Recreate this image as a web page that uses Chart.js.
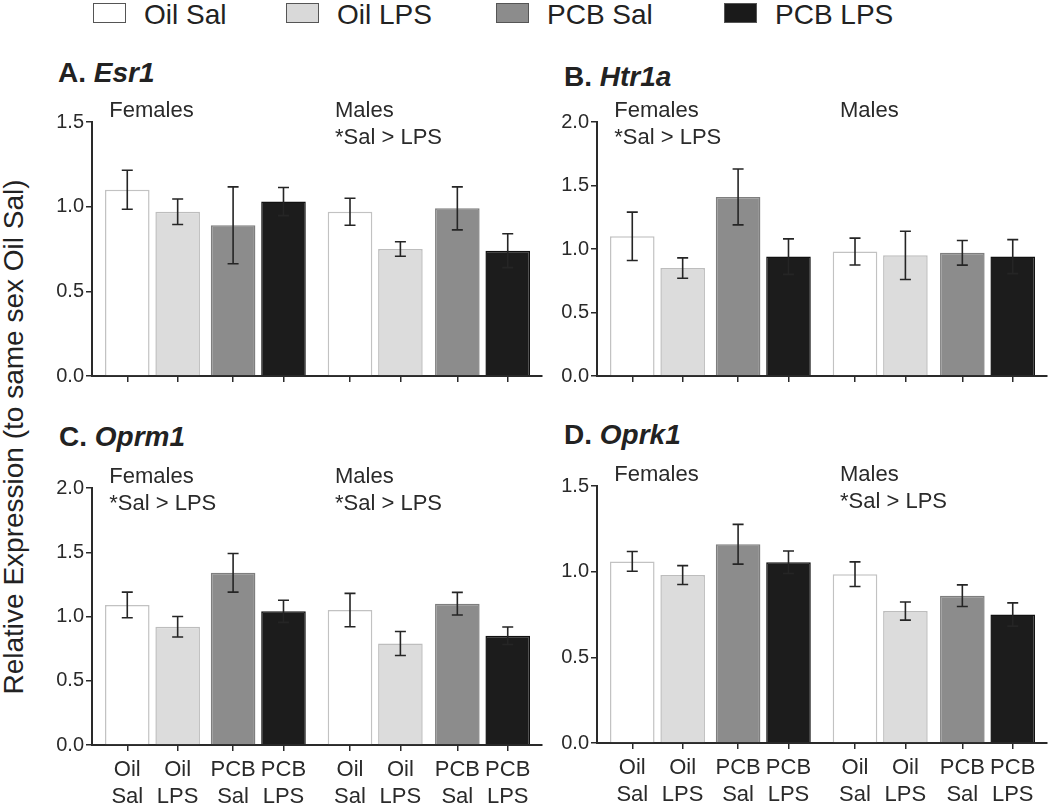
<!DOCTYPE html>
<html>
<head>
<meta charset="utf-8">
<script src="https://cdn.jsdelivr.net/npm/chart.js@4.4.1/dist/chart.umd.min.js"></script>
<style>
body { margin:0; width:1050px; height:807px; background:#fff; position:relative; overflow:hidden;
       font-family:"Liberation Sans", Arial, sans-serif; color:#222; }
.legend-box { position:absolute; top:3px; width:31px; height:18px; border:1.5px solid #555; }
.legend-text { position:absolute; top:1px; font-size:28px; line-height:28px; white-space:nowrap; }
.ptitle { position:absolute; font-size:28px; line-height:28px; font-weight:bold; white-space:nowrap; }
#ytitle { position:absolute; left:14px; top:437px; font-size:28px; line-height:28px; white-space:nowrap;
          transform:translate(-50%,-50%) rotate(-90deg); }
canvas { position:absolute; }
</style>
</head>
<body>
<div id="ytitle">Relative Expression (to same sex Oil Sal)</div>
<div class="ptitle" style="left:58px;top:59px">A. <i>Esr1</i></div>
<div class="ptitle" style="left:564px;top:63px">B. <i>Htr1a</i></div>
<div class="ptitle" style="left:59px;top:423px">C. <i>Oprm1</i></div>
<div class="ptitle" style="left:564px;top:421px">D. <i>Oprk1</i></div>
<script>
// treatment groups (legend) and x tick labels, Females first then Males
var groups = ["Oil Sal", "Oil LPS", "PCB Sal", "PCB LPS"];
var xLabels = [["Oil","Sal"],["Oil","LPS"],["PCB","Sal"],["PCB","LPS"],
               ["Oil","Sal"],["Oil","LPS"],["PCB","Sal"],["PCB","LPS"]];
// slot of each bar on the x axis (Prism-style uneven spacing)
var xPos = [0, 1, 2.1, 3.1, 4.42, 5.42, 6.55, 7.55];

// means and SEM, order: F OilSal, F OilLPS, F PCBSal, F PCBLPS, M OilSal, M OilLPS, M PCBSal, M PCBLPS
var esr1Mean  = [1.10, 0.97, 0.89, 1.03, 0.97, 0.75, 0.99, 0.74];
var esr1Sem   = [0.115, 0.075, 0.227, 0.083, 0.08, 0.043, 0.127, 0.10];
var htr1aMean = [1.10, 0.85, 1.41, 0.94, 0.98, 0.95, 0.97, 0.94];
var htr1aSem  = [0.19, 0.08, 0.22, 0.14, 0.106, 0.19, 0.097, 0.134];
var oprm1Mean = [1.09, 0.92, 1.34, 1.04, 1.05, 0.79, 1.10, 0.85];
var oprm1Sem  = [0.10, 0.08, 0.15, 0.086, 0.13, 0.093, 0.088, 0.068];
var oprk1Mean = [1.06, 0.98, 1.16, 1.055, 0.985, 0.77, 0.86, 0.75];
var oprk1Sem  = [0.058, 0.055, 0.116, 0.066, 0.072, 0.053, 0.063, 0.068];

var fills   = ["#ffffff", "#dcdcdc", "#8c8c8c", "#1c1c1c"];
var borders = ["#c2c2c2", "#bdbdbd", "#7e7e7e", "#111111"];
var legendFills = ["#ffffff", "#d9d9d9", "#8c8c8c", "#1a1a1a"];
var legendX = [93, 286, 496, 724];
var axisColor = "#2a2a2a";
var textColor = "#2a2a2a";

Chart.defaults.font.family = '"Liberation Sans", Arial, sans-serif';

// legend
groups.forEach(function (g, k) {
  var box = document.createElement("div");
  box.className = "legend-box";
  box.style.left = legendX[k] + "px";
  box.style.background = legendFills[k];
  document.body.appendChild(box);
  var t = document.createElement("div");
  t.className = "legend-text";
  t.style.left = (legendX[k] + 51) + "px";
  t.textContent = g;
  document.body.appendChild(t);
});

var errorBars = {
  id: "errorBars",
  afterDatasetsDraw: function (chart) {
    var ctx = chart.ctx, ys = chart.scales.y;
    chart.data.datasets.forEach(function (ds, i) {
      chart.getDatasetMeta(i).data.forEach(function (bar, j) {
        var m = ds.data[j].y, e = ds.errors[j];
        var top = ys.getPixelForValue(m + e), bot = ys.getPixelForValue(m - e);
        ctx.save();
        ctx.strokeStyle = "#252525";
        ctx.lineWidth = 1.6;
        ctx.beginPath();
        ctx.moveTo(bar.x, top); ctx.lineTo(bar.x, bot);
        ctx.moveTo(bar.x - 5.5, top); ctx.lineTo(bar.x + 5.5, top);
        ctx.moveTo(bar.x - 5.5, bot); ctx.lineTo(bar.x + 5.5, bot);
        ctx.stroke();
        ctx.restore();
      });
    });
  }
};

function makeNotes(fem, male) {
  return {
    id: "notes",
    afterDraw: function (chart) {
      var ctx = chart.ctx, xs = chart.scales.x, top = chart.chartArea.top;
      ctx.save();
      ctx.font = '22px "Liberation Sans", Arial, sans-serif';
      ctx.fillStyle = textColor;
      ctx.textAlign = "left";
      ctx.textBaseline = "middle";
      fem.forEach(function (s, i) {
        ctx.fillText(s, xs.getPixelForValue(xPos[0]) - 18, top - 11 + i * 27);
      });
      male.forEach(function (s, i) {
        ctx.fillText(s, xs.getPixelForValue(xPos[4]) - 15, top - 11 + i * 27);
      });
      ctx.restore();
    }
  };
}

var panels = [
  { mean: esr1Mean, sem: esr1Sem, yMax: 1.5, fem: ["Females"], male: ["Males", "*Sal > LPS"],
    left: 30, top: 88, w: 520, h: 302, padTop: 34, padRight: 8, xH: 11, showX: false },
  { mean: htr1aMean, sem: htr1aSem, yMax: 2.0, fem: ["Females", "*Sal > LPS"], male: ["Males"],
    left: 535, top: 88, w: 515, h: 302, padTop: 34, padRight: 3, xH: 10, showX: false },
  { mean: oprm1Mean, sem: oprm1Sem, yMax: 2.0, fem: ["Females", "*Sal > LPS"], male: ["Males", "*Sal > LPS"],
    left: 30, top: 450, w: 520, h: 357, padTop: 38, padRight: 8, xH: 62, showX: true },
  { mean: oprk1Mean, sem: oprk1Sem, yMax: 1.5, fem: ["Females"], male: ["Males", "*Sal > LPS"],
    left: 535, top: 450, w: 515, h: 357, padTop: 36, padRight: 3, xH: 64, showX: true }
];

panels.forEach(function (p) {
  var canvas = document.createElement("canvas");
  canvas.width = p.w;
  canvas.height = p.h;
  canvas.style.left = p.left + "px";
  canvas.style.top = p.top + "px";
  document.body.appendChild(canvas);

  var datasets = groups.map(function (g, k) {
    return {
      label: g,
      data: [{ x: xPos[k], y: p.mean[k] }, { x: xPos[k + 4], y: p.mean[k + 4] }],
      errors: [p.sem[k], p.sem[k + 4]],
      backgroundColor: fills[k],
      borderColor: borders[k],
      borderWidth: 1.5,
      barPercentage: 0.885,
      categoryPercentage: 1,
      grouped: false
    };
  });

  new Chart(canvas, {
    type: "bar",
    data: { datasets: datasets },
    options: {
      responsive: false,
      animation: false,
      layout: { padding: { top: p.padTop, right: p.padRight, left: 0, bottom: 0 } },
      plugins: { legend: { display: false }, tooltip: { enabled: false } },
      scales: {
        x: {
          type: "linear", min: -0.7, max: 8.23, offset: false, bounds: "data",
          afterBuildTicks: function (s) { s.ticks = xPos.map(function (v) { return { value: v }; }); },
          afterFit: function (s) { s.height = p.xH; },
          grid: { drawOnChartArea: false, drawTicks: true, tickLength: 6, color: axisColor, lineWidth: 1.5, offset: false },
          border: { color: axisColor, width: 2 },
          ticks: {
            display: p.showX, autoSkip: false, maxRotation: 0, minRotation: 0, padding: 5,
            color: textColor, font: { size: 22, lineHeight: 1.23 },
            callback: function (v, i) { return xLabels[i]; }
          }
        },
        y: {
          min: 0, max: p.yMax,
          afterFit: function (s) { s.width = 62; },
          grid: { drawOnChartArea: false, tickLength: 6, color: axisColor, lineWidth: 1.5 },
          border: { color: axisColor, width: 2 },
          ticks: {
            stepSize: 0.5, padding: 2, color: textColor, font: { size: 20 },
            callback: function (v) { return v.toFixed(1); }
          }
        }
      }
    },
    plugins: [errorBars, makeNotes(p.fem, p.male)]
  });
});
</script>
</body>
</html>
